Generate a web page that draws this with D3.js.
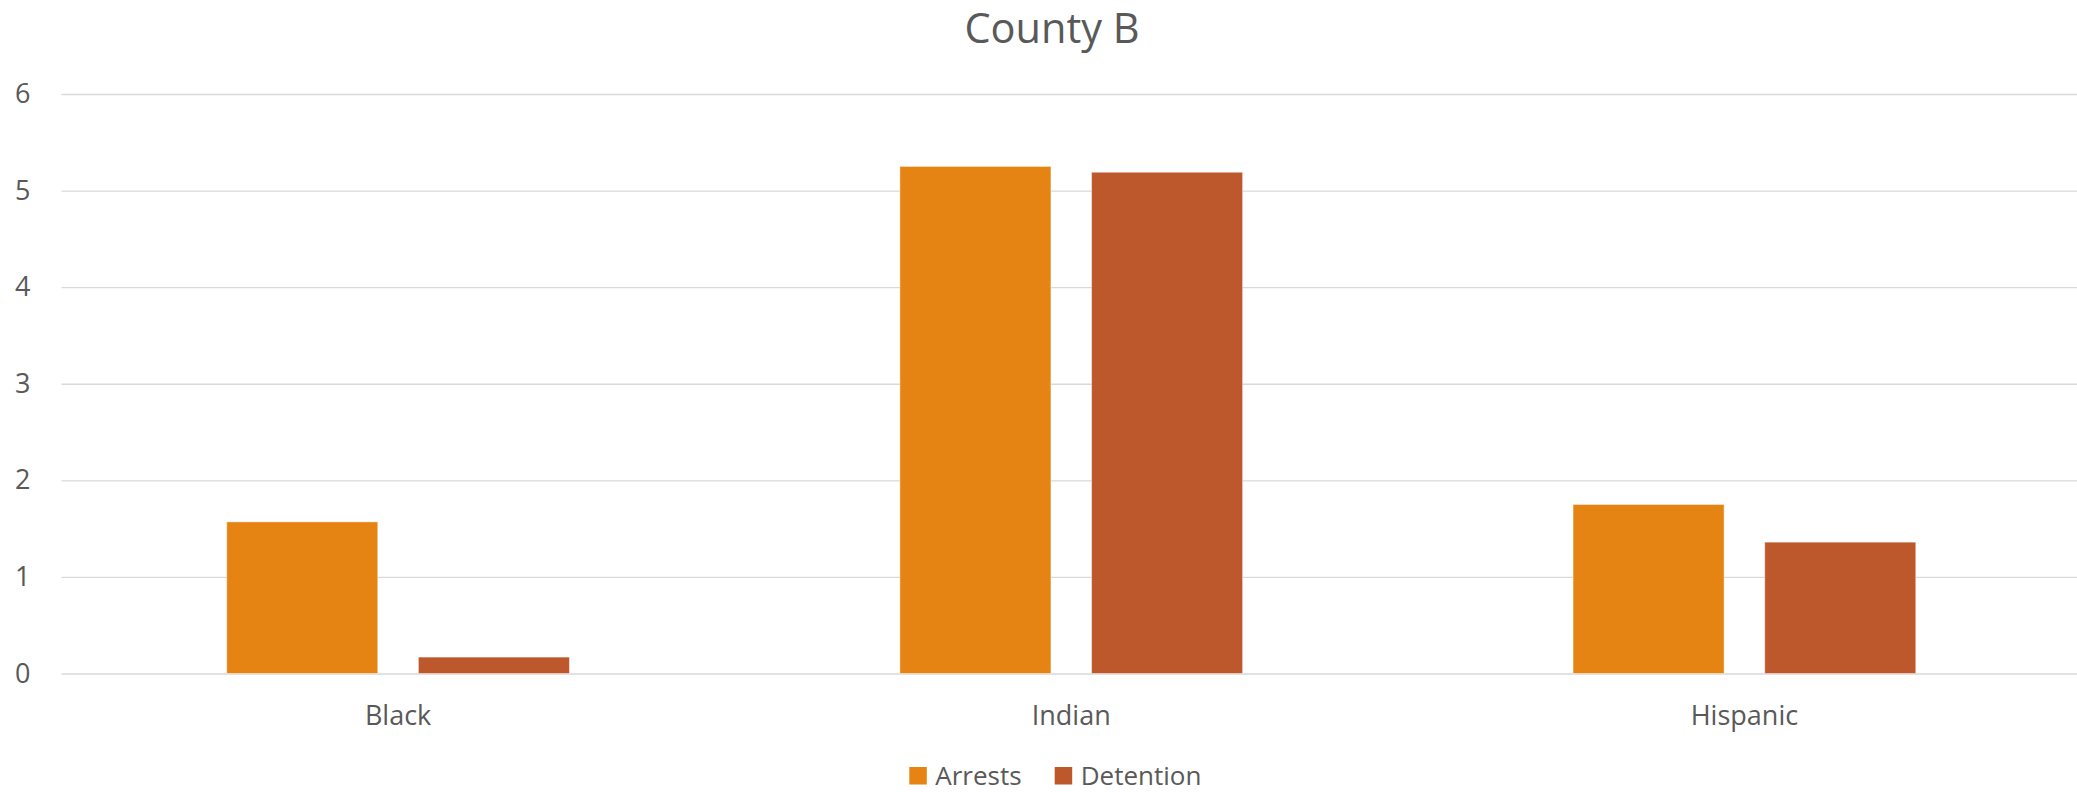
<!DOCTYPE html>
<html>
<head>
<meta charset="utf-8">
<script src="https://cdn.jsdelivr.net/npm/d3@7/dist/d3.min.js"></script>
<style>
  html, body { margin: 0; padding: 0; background: #ffffff; }
  svg { display: block; }
  text { font-family: "Open Sans", "Noto Sans", sans-serif; fill: #595959; }
</style>
</head>
<body>
<svg id="chart"></svg>
<script>
// Chart data
const categories = ["Black", "Indian", "Hispanic"];
const seriesNames = ["Arrests", "Detention"];
const arrests = [1.57, 5.25, 1.75];
const detention = [0.17, 5.19, 1.36];
const yTicks = [0, 1, 2, 3, 4, 5, 6];
const seriesColors = ["#E58313", "#BD582C"];
const titleText = "County B";

const W = 2077, H = 792;
const svg = d3.select("#chart").attr("width", W).attr("height", H);

const plot = { left: 61.5, right: 2081, top: 94, bottom: 673.5 };

const x = d3.scaleBand()
  .domain(categories)
  .range([plot.left, plot.right])
  .paddingInner(0)
  .paddingOuter(0);

const xSeries = d3.scaleBand()
  .domain(seriesNames)
  .range([0, x.bandwidth()])
  .paddingInner(0.212)
  .paddingOuter(0.862);

const y = d3.scaleLinear()
  .domain([0, 6])
  .range([plot.bottom, plot.top]);

// Title
svg.append("text")
  .attr("x", 1052)
  .attr("y", 43)
  .attr("text-anchor", "middle")
  .style("font-size", "41.5px")
  .text(titleText);

// Gridlines and y tick labels
const yAxis = d3.axisLeft(y)
  .tickValues(yTicks)
  .tickSize(-(plot.right - plot.left))
  .tickPadding(31)
  .tickFormat(d3.format("d"));

const gy = svg.append("g")
  .attr("transform", `translate(${plot.left},0)`)
  .call(yAxis);
gy.select(".domain").remove();
gy.selectAll(".tick line")
  .attr("stroke", "#d9d9d9")
  .attr("stroke-width", 1.4);
gy.selectAll(".tick text")
  .attr("fill", "#595959")
  .style("font-family", "\"Open Sans\", \"Noto Sans\", sans-serif")
  .style("font-size", "27px");

// Bars
const rows = categories.map((c, i) => ({ category: c, values: [arrests[i], detention[i]] }));

const groups = svg.append("g")
  .selectAll("g")
  .data(rows)
  .join("g")
  .attr("transform", d => `translate(${x(d.category)},0)`);

groups.selectAll("rect")
  .data(d => d.values.map((v, j) => ({ series: seriesNames[j], value: v, color: seriesColors[j] })))
  .join("rect")
  .attr("x", d => xSeries(d.series))
  .attr("width", xSeries.bandwidth())
  .attr("y", d => y(d.value))
  .attr("height", d => y(0) - y(d.value))
  .attr("fill", d => d.color)
  .attr("stroke", "#ffffff")
  .attr("stroke-opacity", 0.45)
  .attr("stroke-width", 1);

// Category labels
const xAxis = d3.axisBottom(x).tickSize(0).tickPadding(0);
const gx = svg.append("g")
  .attr("transform", `translate(0,${plot.bottom})`)
  .call(xAxis);
gx.select(".domain").remove();
gx.selectAll(".tick text")
  .attr("y", 51)
  .attr("dy", null)
  .attr("fill", "#595959")
  .style("font-family", "\"Open Sans\", \"Noto Sans\", sans-serif")
  .style("font-size", "27px");

// Legend
const legendItems = [
  { name: seriesNames[0], color: seriesColors[0], x: 909.3 },
  { name: seriesNames[1], color: seriesColors[1], x: 1054.7 }
];
const legend = svg.append("g");
const li = legend.selectAll("g").data(legendItems).join("g")
  .attr("transform", d => `translate(${d.x},767)`);
li.append("rect")
  .attr("width", 17.5)
  .attr("height", 17.5)
  .attr("fill", d => d.color);
li.append("text")
  .attr("x", 26)
  .attr("y", 17.5)
  .style("font-size", "26px")
  .text(d => d.name);
</script>
</body>
</html>
